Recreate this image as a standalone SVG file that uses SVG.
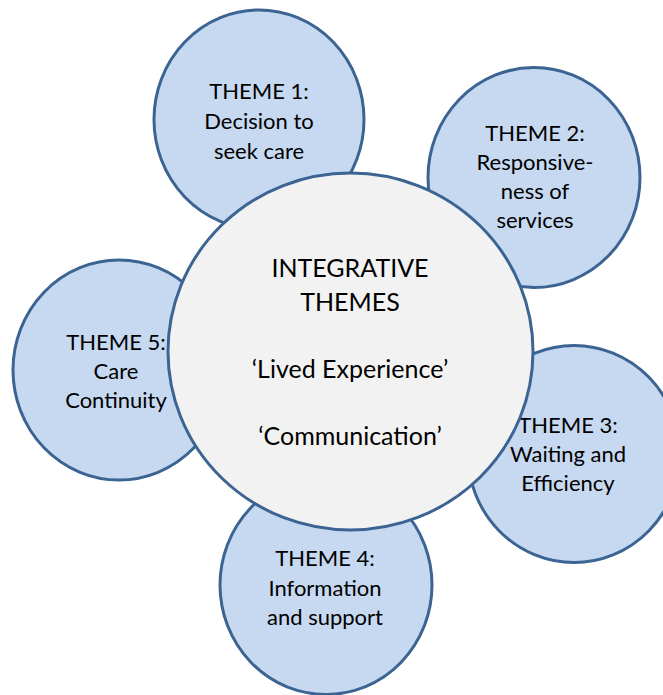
<svg xmlns="http://www.w3.org/2000/svg" width="663" height="695" viewBox="0 0 663 695">
<style>
.theme{fill:#c6d9f0;stroke:#3b6493;stroke-width:3}
.core{fill:#f2f2f2;stroke:#3b6493;stroke-width:3}
text{font-family:Lato,"Open Sans",sans-serif;fill:#000;text-anchor:middle}
.t{font-size:22px}
.c{font-size:25px}
</style>
<rect width="663" height="695" fill="#fff"/>
<g id="connectors"/>
<g id="theme1">
<ellipse class="theme" cx="259" cy="119.5" rx="105" ry="109.5"/>
<text class="t" x="259" y="99">THEME 1:</text>
<text class="t" x="259" y="129">Decision to</text>
<text class="t" x="259" y="159">seek care</text>
</g>
<g id="theme2">
<ellipse class="theme" cx="534" cy="177.5" rx="106" ry="110"/>
<text class="t" x="535" y="141">THEME 2:</text>
<text class="t" x="535" y="170">Responsive-</text>
<text class="t" x="535" y="199">ness of</text>
<text class="t" x="535" y="228">services</text>
</g>
<g id="theme3">
<ellipse class="theme" cx="574" cy="454" rx="106" ry="108.5"/>
<text class="t" x="568" y="433">THEME 3:</text>
<text class="t" x="568" y="462">Waiting and</text>
<text class="t" x="568" y="491">Efficiency</text>
</g>
<g id="theme4">
<ellipse class="theme" cx="326" cy="585" rx="106" ry="109.5"/>
<text class="t" x="325" y="566">THEME 4:</text>
<text class="t" x="325" y="596">Information</text>
<text class="t" x="325" y="625">and support</text>
</g>
<g id="theme5">
<ellipse class="theme" cx="119" cy="370" rx="106" ry="110"/>
<text class="t" x="116" y="350">THEME 5:</text>
<text class="t" x="116" y="379">Care</text>
<text class="t" x="116" y="408">Continuity</text>
</g>
<g id="integrative">
<ellipse class="core" cx="350.5" cy="351.5" rx="182.5" ry="178.5"/>
<text class="c" x="350" y="277">INTEGRATIVE</text>
<text class="c" x="350" y="311">THEMES</text>
<text class="c" x="350" y="378">‘Lived Experience’</text>
<text class="c" x="350" y="445">‘Communication’</text>
</g>
</svg>
